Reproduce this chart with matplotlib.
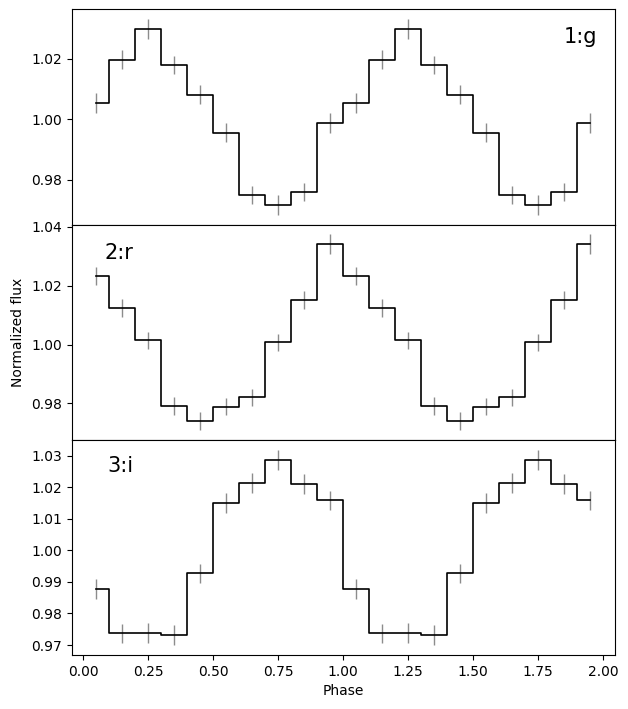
import matplotlib
matplotlib.use("Agg")
import matplotlib.pyplot as plt
import numpy as np

# phase bins (two cycles)
phase = [0.05, 0.15, 0.25, 0.35, 0.45, 0.55, 0.65, 0.75, 0.85, 0.95,
         1.05, 1.15, 1.25, 1.35, 1.45, 1.55, 1.65, 1.75, 1.85, 1.95]

flux_g = [1.0055, 1.0197, 1.0299, 1.0180, 1.0082, 0.9956, 0.9750, 0.9716, 0.9759, 0.9989]
err_g = [0.0033, 0.0032, 0.0033, 0.0030, 0.0030, 0.0032, 0.0030, 0.0032, 0.0030, 0.0033]

flux_r = [1.0233, 1.0124, 1.0014, 0.9791, 0.9739, 0.9789, 0.9820, 1.0007, 1.0152, 1.0342]
err_r = [0.0032, 0.0030, 0.0030, 0.0030, 0.0030, 0.0030, 0.0030, 0.0030, 0.0030, 0.0033]

flux_i = [0.9877, 0.9737, 0.9737, 0.9731, 0.9928, 1.0150, 1.0213, 1.0286, 1.0209, 1.0158]
err_i = [0.0032, 0.0030, 0.0032, 0.0032, 0.0030, 0.0032, 0.0032, 0.0033, 0.0032, 0.0030]

labels = ["1:g", "2:r", "3:i"]
label_pos = [(0.937, 0.87), (0.087, 0.87), (0.089, 0.878)]

fig, axes = plt.subplots(3, 1, sharex=True, figsize=(6.28, 7.09), dpi=100)
fig.subplots_adjust(left=0.114, right=0.979, top=0.987, bottom=0.076, hspace=0)

for ax, f, e, lab, pos in zip(axes, [flux_g, flux_r, flux_i], [err_g, err_r, err_i],
                              labels, label_pos):
    y = np.array(f * 2)
    ye = np.array(e * 2)
    ax.errorbar(phase, y, yerr=ye, fmt='none', ecolor='grey', elinewidth=1, alpha=0.9)
    ax.step(phase, y, where='mid', color='k', lw=1.2)
    ax.text(pos[0], pos[1], lab, transform=ax.transAxes, fontsize=15,
            ha='center', va='center')

axes[1].set_ylabel("Normalized flux")
axes[2].set_xlabel("Phase")

fig.savefig("out.png")
